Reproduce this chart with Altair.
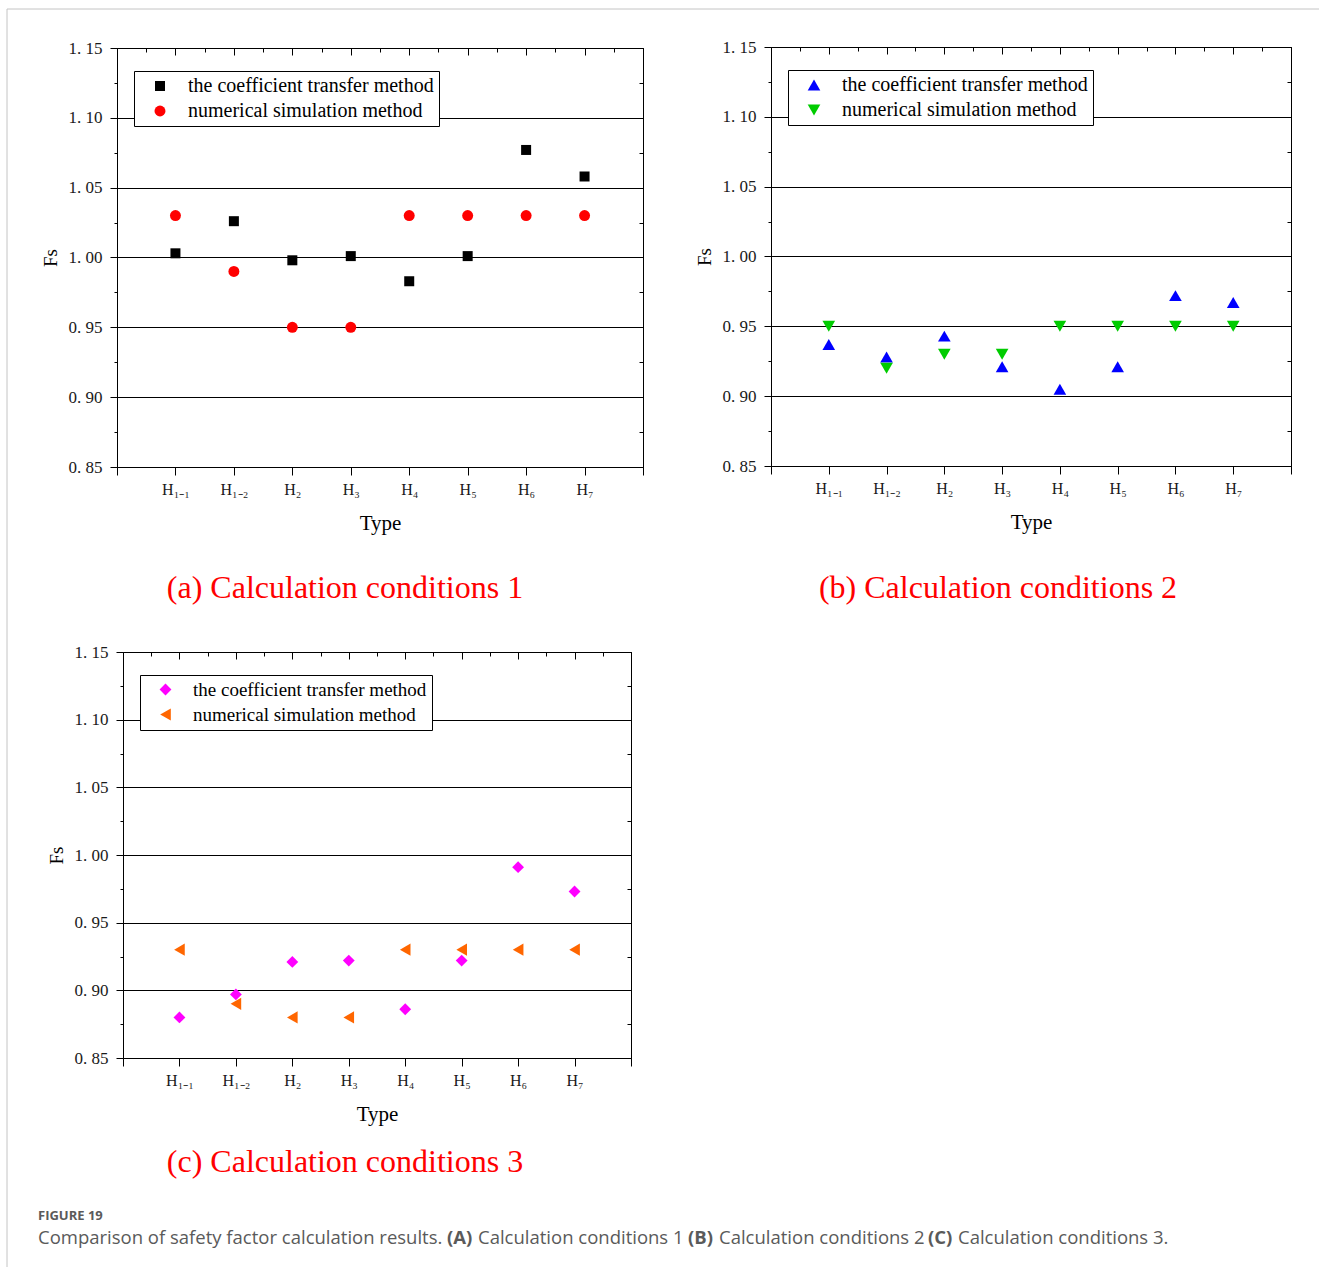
import altair as alt
import pandas as pd

# ---------------- data ----------------
types = ["H₁₋₁", "H₁₋₂", "H₂", "H₃", "H₄", "H₅", "H₆", "H₇"]
methods = ["the coefficient transfer method", "numerical simulation method"]

a_ctm = [1.003, 1.026, 0.998, 1.001, 0.983, 1.001, 1.077, 1.058]
a_nsm = [1.030, 0.990, 0.950, 0.950, 1.030, 1.030, 1.030, 1.030]

b_ctm = [0.937, 0.928, 0.943, 0.921, 0.905, 0.921, 0.972, 0.967]
b_nsm = [0.950, 0.920, 0.930, 0.930, 0.950, 0.950, 0.950, 0.950]

c_ctm = [0.880, 0.897, 0.921, 0.922, 0.886, 0.922, 0.991, 0.973]
c_nsm = [0.930, 0.890, 0.880, 0.880, 0.930, 0.930, 0.930, 0.930]

y_major = [0.85, 0.90, 0.95, 1.00, 1.05, 1.10, 1.15]
y_minor = [0.875, 0.925, 0.975, 1.025, 1.075, 1.125]
x_major = [0, 1, 2, 3, 4, 5, 6, 7, 8, 9]
x_minor = [0.5, 1.5, 2.5, 3.5, 4.5, 5.5, 6.5, 7.5, 8.5]

panel_titles = ["(a) Calculation conditions 1", "(b) Calculation conditions 2",
                "(c) Calculation conditions 3"]
fig_label = "FIGURE 19"
caption_segments = [
    ("Comparison of safety factor calculation results.", "normal"),
    ("(A)", "bold"),
    ("Calculation conditions 1", "normal"),
    ("(B)", "bold"),
    ("Calculation conditions 2", "normal"),
    ("(C)", "bold"),
    ("Calculation conditions 3.", "normal"),
]

# ---------------- style / layout ----------------
W, H = 1319, 1267
SERIF = "Liberation Serif"
SANS = "Open Sans"
caption_x = [38, 447, 478, 688, 719, 928, 958]

label_expr = "[" + ",".join(["''"] + ["'" + t + "'" for t in types] + ["''"]) + "][datum.value]"
y_label_expr = "replace(format(datum.value, '.2f'), '.', '. ')"

panel_styles = [
    dict(colors=["#000000", "#ff0000"], shapes=["square", "circle"], sizes=[100, 120],
         xr=(117, 643), yr=(467, 48), legend=(134, 71), lfont=20,
         title_pos=(345, 588)),
    dict(colors=["#0000ff", "#00cc00"], shapes=["triangle-up", "triangle-down"], sizes=[160, 160],
         xr=(771, 1291), yr=(466, 47), legend=(788, 70), lfont=20,
         title_pos=(998, 588)),
    dict(colors=["#ff00ff", "#ff6600"], shapes=["diamond", "triangle-left"], sizes=[140, 150],
         xr=(123, 631), yr=(1058, 652), legend=(140, 675), lfont=19,
         title_pos=(345, 1162)),
]
series = [(a_ctm, a_nsm), (b_ctm, b_nsm), (c_ctm, c_nsm)]


def ghost_axis(orient, vals, tick, offset, ticks=True, domain=False):
    return alt.Axis(orient=orient, values=vals, labels=False, domain=domain, grid=False,
                    ticks=ticks, tickSize=tick, offset=offset, title=None)


def panel_layers(ctm, nsm, st, title):
    n = len(types)
    df = pd.DataFrame({
        "pos": list(range(1, n + 1)) * 2,
        "type": types * 2,
        "value": ctm + nsm,
        "method": [methods[0]] * n + [methods[1]] * n,
    })
    xl, xrr = st["xr"]
    yb, yt = st["yr"]
    xs = alt.Scale(domain=[0, 9], range=[xl, xrr], nice=False, zero=False)
    ys = alt.Scale(domain=[0.85, 1.15], range=[yb, yt], nice=False, zero=False)
    base = alt.Chart(df)

    legend = alt.Legend(
        title=None, orient="none", legendX=st["legend"][0], legendY=st["legend"][1],
        strokeColor="black", fillColor="white", padding=5, rowPadding=5,
        labelFont=SERIF, labelFontSize=st["lfont"], labelColor="black",
        labelLimit=600, symbolSize=110, symbolOffset=11, labelOffset=18,
    )

    points = base.mark_point(filled=True, opacity=1).encode(
        x=alt.X("pos:Q", scale=xs, axis=alt.Axis(
            orient="bottom", offset=yb - H, values=x_major, labelExpr=label_expr, title="Type",
            tickSize=8, labelPadding=6, labelFontSize=16, labelFont=SERIF, labelFlush=False,
            titleFontSize=21, titlePadding=15, grid=False)),
        y=alt.Y("value:Q", scale=ys, axis=alt.Axis(
            orient="left", offset=-xl, values=y_major, labelExpr=y_label_expr, title="Fs",
            tickSize=7, labelPadding=8, labelFontSize=17, labelFont=SERIF, grid=True,
            gridColor="black", gridOpacity=1, gridWidth=1,
            titleFontSize=19, titlePadding=8)),
        color=alt.Color("method:N", scale=alt.Scale(domain=methods, range=st["colors"]), legend=legend),
        shape=alt.Shape("method:N", scale=alt.Scale(domain=methods, range=st["shapes"]), legend=legend),
        size=alt.Size("method:N", scale=alt.Scale(domain=methods, range=st["sizes"]), legend=None),
    )
    g1 = base.mark_point(opacity=0).encode(
        x=alt.X("pos:Q", scale=xs, axis=ghost_axis("top", x_minor, 4, -(yt + 4))),
        y=alt.Y("value:Q", scale=ys, axis=ghost_axis("left", y_minor, 3, -xl)),
    )
    g2 = base.mark_point(opacity=0).encode(
        x=alt.X("pos:Q", scale=xs, axis=ghost_axis("top", x_major, 7, -(yt + 7))),
        y=alt.Y("value:Q", scale=ys, axis=ghost_axis("right", y_minor, 4, xrr - 4 - W)),
    )
    g3 = base.mark_point(opacity=0).encode(
        x=alt.X("pos:Q", scale=xs, axis=ghost_axis("top", x_major, 0, -yt, ticks=False, domain=True)),
        y=alt.Y("value:Q", scale=ys, axis=ghost_axis("right", y_major, 7, xrr - 7 - W)),
    )
    g4 = base.mark_point(opacity=0).encode(
        y=alt.Y("value:Q", scale=ys, axis=ghost_axis("right", y_major, 0, xrr - W, ticks=False, domain=True)),
    )
    ttl = alt.Chart(pd.DataFrame({"t": [title]})).mark_text(
        align="center", baseline="middle", font=SERIF, fontSize=32, color="red").encode(
        x=alt.value(st["title_pos"][0]), y=alt.value(st["title_pos"][1]), text="t:N")
    return [points, g1, g2, g3, g4, ttl]


layers = []
for (ctm, nsm), st, title in zip(series, panel_styles, panel_titles):
    layers += panel_layers(ctm, nsm, st, title)

# page frame and figure caption
one = pd.DataFrame({"k": [0]})
layers += [
    alt.Chart(one).mark_rule(color="#c4c4c4", strokeWidth=1).encode(
        x=alt.value(7), x2=alt.value(W), y=alt.value(9)),
    alt.Chart(one).mark_rule(color="#c4c4c4", strokeWidth=1).encode(
        x=alt.value(7), y=alt.value(9), y2=alt.value(H)),
    alt.Chart(pd.DataFrame({"t": [fig_label]})).mark_text(
        align="left", baseline="middle", font=SANS, fontSize=13, fontWeight="bold",
        color="#5a5a5a").encode(x=alt.value(38), y=alt.value(1216), text="t:N"),
]
for (seg, weight), sx in zip(caption_segments, caption_x):
    layers.append(
        alt.Chart(pd.DataFrame({"t": [seg]})).mark_text(
            align="left", baseline="middle", font=SANS, fontSize=18.5, fontWeight=weight,
            color="#5a5a5a").encode(x=alt.value(sx), y=alt.value(1238), text="t:N"))

chart = alt.layer(*layers).resolve_scale(
    x="independent", y="independent", color="independent", shape="independent",
    size="independent",
).resolve_axis(x="independent", y="independent").properties(
    width=W, height=H, padding=0,
    autosize=alt.AutoSizeParams(type="none"),
    background="white",
).configure_axis(
    labelFont=SERIF, titleFont=SERIF, domainColor="black", tickColor="black",
    labelColor="#1a1a1a", titleColor="black", titleFontWeight="normal",
    domainWidth=1, tickWidth=1,
).configure_view(stroke="transparent")

chart.save("out.html", embed_options={"renderer": "svg", "actions": False})
